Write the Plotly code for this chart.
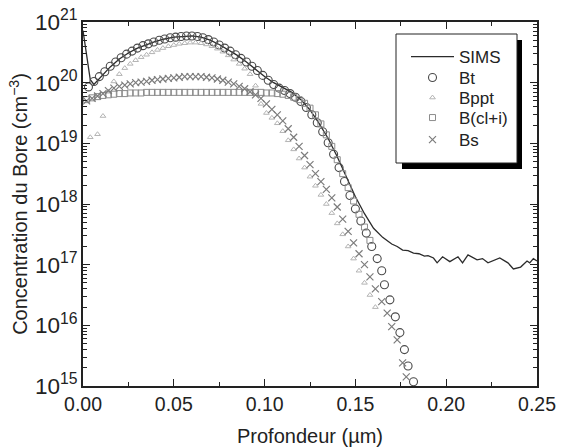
import plotly.graph_objects as go

# Profondeur (µm) and log10 of boron concentration (cm^-3)

# SIMS profile
sims_depth = [0.000, 0.002, 0.004, 0.006, 0.010, 0.015, 0.020, 0.025, 0.030, 0.035,
              0.040, 0.045, 0.050, 0.055, 0.060, 0.065, 0.070, 0.075, 0.080, 0.085,
              0.090, 0.095, 0.100, 0.105, 0.110, 0.115, 0.120, 0.125, 0.130, 0.135,
              0.140, 0.145, 0.150, 0.155, 0.160, 0.165, 0.170, 0.173, 0.176, 0.179,
              0.182, 0.185, 0.188, 0.190, 0.193, 0.195, 0.198, 0.202, 0.2065, 0.209,
              0.212, 0.217, 0.220, 0.223, 0.2295, 0.234, 0.237, 0.241, 0.2445, 0.246,
              0.248, 0.250]
sims_log = [20.86, 20.45, 20.05, 19.97, 20.10, 20.26, 20.39, 20.49, 20.57, 20.63,
            20.68, 20.72, 20.75, 20.76, 20.77, 20.75, 20.70, 20.63, 20.54, 20.45,
            20.34, 20.22, 20.10, 20.00, 19.92, 19.84, 19.72, 19.55, 19.33, 19.08,
            18.78, 18.45, 18.12, 17.84, 17.60, 17.45, 17.34, 17.30, 17.24, 17.23,
            17.19, 17.18, 17.14, 17.15, 17.11, 17.03, 17.13, 17.05, 17.13, 17.03,
            17.16, 17.08, 17.10, 17.03, 17.11, 17.03, 16.93, 16.96, 17.06, 17.03,
            17.10, 17.06]

# Bt (total boron)
bt_depth = [0.003, 0.006, 0.009, 0.012, 0.015, 0.018, 0.021, 0.024, 0.027, 0.030,
            0.033, 0.036, 0.039, 0.042, 0.045, 0.048, 0.051, 0.054, 0.057, 0.060,
            0.063, 0.066, 0.069, 0.072, 0.075, 0.078, 0.081, 0.084, 0.087, 0.090,
            0.093, 0.096, 0.099, 0.102, 0.105, 0.108, 0.111, 0.114, 0.117, 0.120,
            0.123, 0.126, 0.129, 0.132, 0.135, 0.138, 0.141, 0.144, 0.147, 0.150,
            0.153, 0.156, 0.159, 0.162, 0.1645, 0.166, 0.169, 0.172, 0.1745, 0.177,
            0.179, 0.182]
bt_log = [19.93, 20.02, 20.10, 20.18, 20.27, 20.34, 20.41, 20.47, 20.52, 20.57,
          20.61, 20.64, 20.67, 20.70, 20.72, 20.74, 20.75, 20.76, 20.77, 20.77,
          20.76, 20.74, 20.71, 20.67, 20.62, 20.57, 20.52, 20.46, 20.40, 20.34,
          20.27, 20.20, 20.12, 20.04, 19.97, 19.91, 19.87, 19.82, 19.76, 19.69,
          19.59, 19.47, 19.34, 19.19, 19.01, 18.82, 18.60, 18.37, 18.14, 17.92,
          17.72, 17.52, 17.30, 17.10, 16.90, 16.67, 16.42, 16.14, 15.88, 15.60,
          15.33, 15.07]

# Bppt (precipitated boron)
bppt_depth = [0.004, 0.008, 0.011, 0.014, 0.017, 0.020, 0.023, 0.026, 0.029, 0.032,
              0.035, 0.038, 0.041, 0.044, 0.047, 0.050, 0.053, 0.056, 0.059, 0.062,
              0.065, 0.068, 0.071, 0.074, 0.077, 0.080, 0.083, 0.086, 0.089, 0.092,
              0.095, 0.098, 0.101, 0.104, 0.107, 0.110, 0.113, 0.116, 0.119, 0.122,
              0.125, 0.128, 0.131, 0.134, 0.137, 0.140, 0.143, 0.146, 0.149, 0.152,
              0.155, 0.158, 0.161]
bppt_log = [19.10, 19.15, 19.45, 19.85, 20.02, 20.14, 20.24, 20.31, 20.37, 20.42,
            20.46, 20.50, 20.54, 20.57, 20.60, 20.62, 20.64, 20.65, 20.66, 20.66,
            20.65, 20.63, 20.60, 20.56, 20.51, 20.45, 20.38, 20.31, 20.23, 20.14,
            19.95, 19.65, 19.50, 19.42, 19.33, 19.20, 19.05, 18.90, 18.75, 18.60,
            18.45, 18.30, 18.15, 18.00, 17.85, 17.68, 17.50, 17.30, 17.10, 16.90,
            16.70, 16.50, 16.30]

# B(cl+i) (clusters + interstitials)
bcl_depth = [0.002, 0.005, 0.008, 0.011, 0.014, 0.017, 0.020, 0.023, 0.026, 0.029,
             0.032, 0.035, 0.038, 0.041, 0.044, 0.047, 0.050, 0.053, 0.056, 0.059,
             0.062, 0.065, 0.068, 0.071, 0.074, 0.077, 0.080, 0.083, 0.086, 0.089,
             0.092, 0.095, 0.098, 0.101, 0.104, 0.107, 0.110, 0.113, 0.116, 0.119,
             0.122, 0.125, 0.128, 0.131, 0.134, 0.137, 0.140, 0.143, 0.146, 0.149,
             0.152, 0.155, 0.158]
bcl_log = [19.72, 19.75, 19.77, 19.79, 19.80, 19.81, 19.82, 19.82, 19.83, 19.83,
           19.83, 19.84, 19.84, 19.84, 19.84, 19.84, 19.84, 19.84, 19.84, 19.84,
           19.84, 19.84, 19.84, 19.84, 19.84, 19.84, 19.84, 19.84, 19.84, 19.84,
           19.84, 19.84, 19.84, 19.83, 19.83, 19.82, 19.81, 19.79, 19.76, 19.72,
           19.66, 19.58, 19.47, 19.32, 19.14, 18.95, 18.73, 18.50, 18.27, 18.05,
           17.83, 17.62, 17.40]

# Bs (substitutional boron)
bs_depth = [0.002, 0.005, 0.008, 0.011, 0.014, 0.017, 0.020, 0.023, 0.026, 0.029,
            0.032, 0.035, 0.038, 0.041, 0.044, 0.047, 0.050, 0.053, 0.056, 0.059,
            0.062, 0.065, 0.068, 0.071, 0.074, 0.077, 0.080, 0.083, 0.086, 0.089,
            0.092, 0.095, 0.098, 0.101, 0.104, 0.107, 0.110, 0.113, 0.116, 0.119,
            0.122, 0.125, 0.128, 0.131, 0.134, 0.137, 0.140, 0.143, 0.146, 0.149,
            0.152, 0.155, 0.158, 0.161, 0.1645, 0.1675, 0.170, 0.173, 0.176, 0.178]
bs_log = [19.70, 19.74, 19.78, 19.82, 19.87, 19.91, 19.94, 19.96, 19.98, 20.00,
          20.01, 20.02, 20.04, 20.05, 20.06, 20.07, 20.08, 20.09, 20.10, 20.10,
          20.10, 20.10, 20.09, 20.08, 20.06, 20.04, 20.01, 19.98, 19.94, 19.90,
          19.85, 19.80, 19.74, 19.65, 19.56, 19.47, 19.37, 19.24, 19.10, 18.95,
          18.80, 18.65, 18.50, 18.37, 18.24, 18.10, 17.95, 17.75, 17.55, 17.36,
          17.18, 17.00, 16.80, 16.60, 16.39, 16.20, 15.98, 15.76, 15.38, 15.15]

series_names = ["SIMS", "Bt", "Bppt", "B(cl+i)", "Bs"]

FONT = "Liberation Sans, Arial, sans-serif"


def conc(logs):
    return [10 ** v for v in logs]


# plot area in pixels: left 83, right 537, top 22, bottom 386
L, R, T, B = 83, 537, 22, 386
W, H = 561, 447


def px(xp):
    return (xp - L) / (R - L)


def py(yp):
    return (B - yp) / (B - T)


legend_ids = ["legend", "legend2", "legend3", "legend4", "legend5"]
legend_rows = [57, 78, 98, 118, 140]

fig = go.Figure()

fig.add_trace(go.Scatter(
    x=sims_depth, y=conc(sims_log), name=series_names[0], mode="lines",
    legend=legend_ids[0],
    line=dict(color="#2b2b2b", width=1.3)))
fig.add_trace(go.Scatter(
    x=bt_depth, y=conc(bt_log), name=series_names[1], mode="markers",
    legend=legend_ids[1],
    marker=dict(symbol="circle-open", size=8, color="#4a4a4a", line=dict(width=1.1))))
fig.add_trace(go.Scatter(
    x=bppt_depth, y=conc(bppt_log), name=series_names[2], mode="markers",
    legend=legend_ids[2],
    marker=dict(symbol="triangle-up-open", size=5, color="#b4b4b4", line=dict(width=1))))
fig.add_trace(go.Scatter(
    x=bcl_depth, y=conc(bcl_log), name=series_names[3], mode="markers",
    legend=legend_ids[3],
    marker=dict(symbol="square-open", size=6, color="#8c8c8c", line=dict(width=1))))
fig.add_trace(go.Scatter(
    x=bs_depth, y=conc(bs_log), name=series_names[4], mode="markers",
    legend=legend_ids[4],
    marker=dict(symbol="x-thin-open", size=7, color="#7c7c7c",
                line=dict(width=1.2, color="#7c7c7c"))))

# legend frame with drop shadow
fig.add_shape(type="rect", xref="paper", yref="paper",
              x0=px(402), x1=px(522), y0=py(169), y1=py(40),
              fillcolor="black", line=dict(width=0), layer="above")
fig.add_shape(type="rect", xref="paper", yref="paper",
              x0=px(396), x1=px(517), y0=py(163), y1=py(34),
              fillcolor="white", line=dict(color="#222", width=1), layer="above")

legend_style = dict(xanchor="left", yanchor="middle", bgcolor="rgba(0,0,0,0)",
                    borderwidth=0, itemwidth=43,
                    font=dict(size=17, family=FONT, color="#222"))
legends = {lid: dict(x=px(406), y=py(row), **legend_style)
           for lid, row in zip(legend_ids, legend_rows)}

fig.update_layout(
    width=W, height=H,
    margin=dict(l=L, r=W - R, t=T, b=H - B, autoexpand=False),
    paper_bgcolor="white", plot_bgcolor="white",
    font=dict(family=FONT, color="#222", size=20),
    showlegend=True,
    **legends,
)

fig.update_xaxes(
    range=[0, 0.25], dtick=0.05, tickformat=".2f", automargin=False,
    showline=True, linecolor="#222", linewidth=1.5, mirror="ticks",
    ticks="inside", ticklen=7, tickwidth=1.2, tickcolor="#222",
    minor=dict(ticks="inside", ticklen=4, dtick=0.025, tickcolor="#222", showgrid=False),
    showgrid=False, zeroline=False,
    tickfont=dict(size=19.5),
    title=dict(text="Profondeur (µm)", font=dict(size=20), standoff=23),
)
fig.update_yaxes(
    type="log", range=[15, 21], dtick=1, exponentformat="power", automargin=False,
    showline=True, linecolor="#222", linewidth=1.5, mirror="ticks",
    ticks="inside", ticklen=7, tickwidth=1.2, tickcolor="#222",
    minor=dict(ticks="inside", ticklen=4, dtick="D1", tickcolor="#222", showgrid=False),
    showgrid=False, zeroline=False,
    tickfont=dict(size=18),
    title=dict(text="Concentration du Bore (cm<sup>−3</sup>)", font=dict(size=20), standoff=2),
)

fig.write_html("out.html")
